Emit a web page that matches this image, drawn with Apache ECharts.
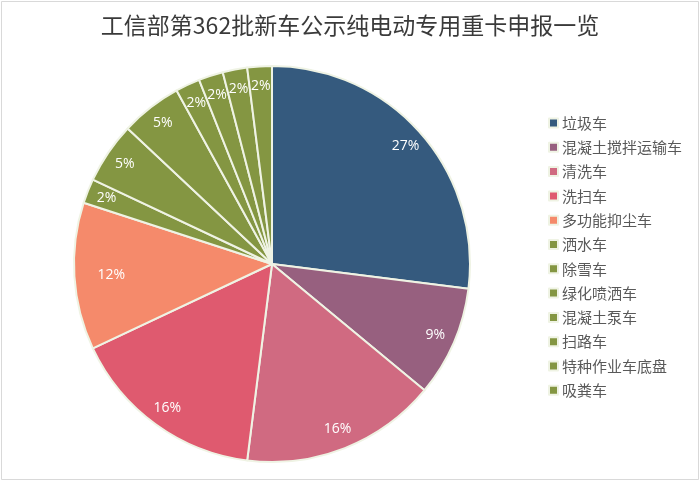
<!DOCTYPE html>
<html><head><meta charset="utf-8">
<script src="https://cdn.jsdelivr.net/npm/echarts@6/dist/echarts.min.js"></script>
<style>html,body{margin:0;padding:0;background:#fff}#c{width:700px;height:491px}</style>
</head><body><div id="c"></div>
<script>
const titleText = '工信部第362批新车公示纯电动专用重卡申报一览';
const categories = ['垃圾车','混凝土搅拌运输车','清洗车','洗扫车','多功能抑尘车','洒水车','除雪车','绿化喷洒车','混凝土泵车','扫路车','特种作业车底盘','吸粪车'];
const percents = [27, 9, 16, 16, 12, 2, 5, 5, 2, 2, 2, 2];
const colors = ['#355a7e','#97607f','#d06a81','#df5a6f','#f58a6b','#849642','#849642','#849642','#849642','#849642','#849642','#849642'];

const data = categories.map((n, i) => ({ name: n, value: percents[i], itemStyle: { color: colors[i] } }));
const labelData = categories.map((n, i) => {
  const d = { name: n, value: percents[i] };
  if (n === '多功能抑尘车') d.label = { padding: [0, 0, 0, 34] };
  return d;
});
const chart = echarts.init(document.getElementById('c'), null, { renderer: 'canvas' });
chart.setOption({
  animation: false,
  backgroundColor: '#fff',
  graphic: [{ type: 'rect', shape: { x: 1.5, y: 1.5, width: 697, height: 478 }, style: { fill: 'none', stroke: '#d9d9d9', lineWidth: 1 }, silent: true }],
  title: {
    text: titleText, left: 'center', top: 9,
    textStyle: { fontFamily: 'Noto Sans CJK SC', fontSize: 23, fontWeight: 'normal', color: '#3a3a3a' }
  },
  legend: {
    orient: 'vertical', left: 543, top: 110,
    itemWidth: 9, itemHeight: 9, itemGap: 8.3, icon: 'rect',
    textStyle: { fontFamily: 'Noto Sans CJK SC', fontSize: 15, color: '#595959', lineHeight: 16, padding: [0,0,0,-1] },
    data: categories
  },
  series: [{
    type: 'pie', center: [272, 264], radius: [0, 198], startAngle: 90, clockwise: true,
    label: { show: false }, labelLine: { show: false },
    itemStyle: { borderColor: '#eff3e4', borderWidth: 2 },
    data: data
  }, {
    type: 'pie', center: [272, 264], radius: [152, 198], startAngle: 90, clockwise: true,
    silent: true, legendHoverLink: false,
    itemStyle: { color: 'rgba(0,0,0,0)', borderWidth: 0 },
    label: { show: true, position: 'inside', formatter: '{c}%', color: '#fff', fontFamily: 'Open Sans', fontSize: 14 },
    labelLine: { show: false },
    data: labelData
  }]
});
</script></body></html>
